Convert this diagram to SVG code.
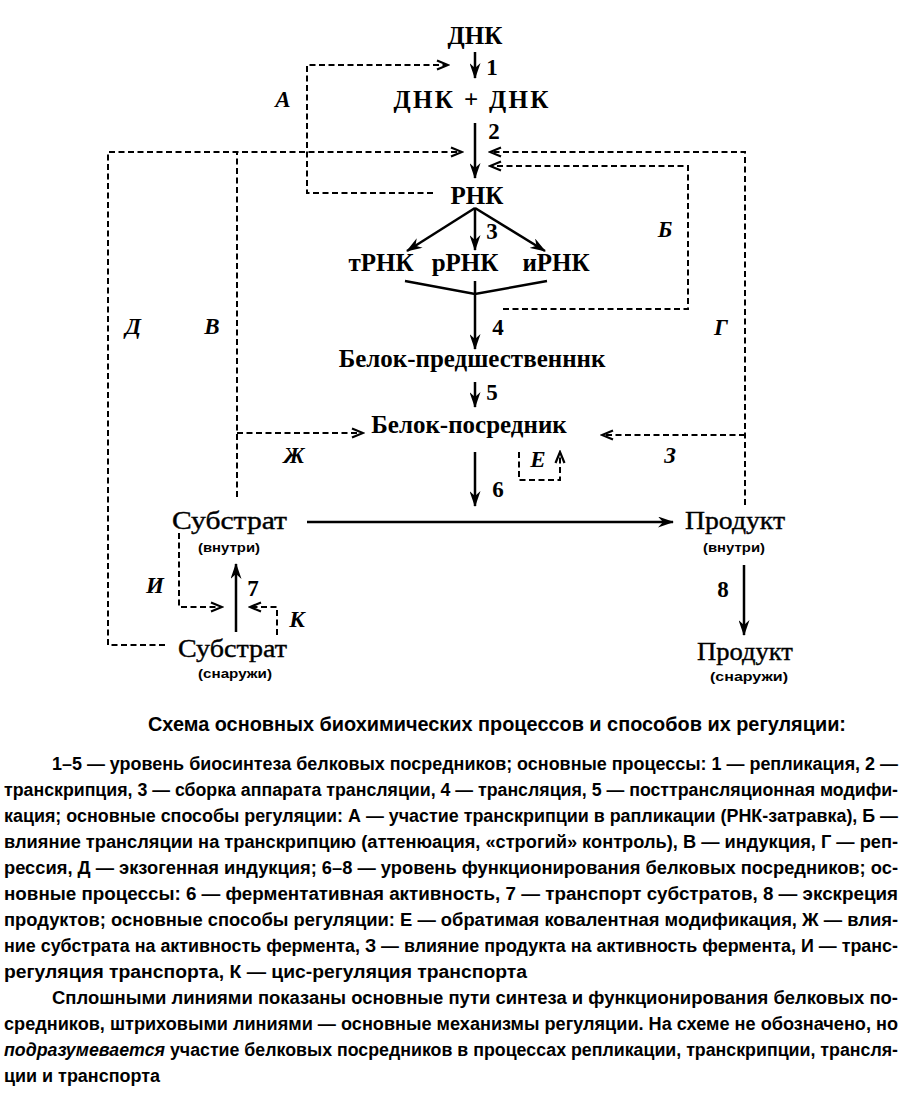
<svg xmlns="http://www.w3.org/2000/svg" width="921" height="1102" viewBox="0 0 921 1102">
<style>
.n{font-family:"Liberation Serif","Times New Roman",serif;font-weight:bold;font-size:25px;fill:#000;text-anchor:middle}
.nr{font-family:"Liberation Serif","Times New Roman",serif;font-size:26px;fill:#000;stroke:#000;stroke-width:0.4}
.num{font-family:"Liberation Serif","Times New Roman",serif;font-weight:bold;font-size:23px;fill:#000;text-anchor:middle}
.lab{font-family:"Liberation Serif","Times New Roman",serif;font-weight:bold;font-style:italic;font-size:23px;fill:#000;text-anchor:middle}
.sm{font-family:"Liberation Sans",Arial,sans-serif;font-weight:bold;font-size:13px;fill:#000}
.s{stroke:#000;stroke-width:2.5;fill:none;marker-end:url(#as)}
.sl{stroke:#000;stroke-width:2.5;fill:none}
.d{stroke:#000;stroke-width:2;fill:none;stroke-dasharray:6 3.5}
.da{stroke:#000;stroke-width:2;fill:none;stroke-dasharray:6 3.5;marker-end:url(#ad)}
.t{font-family:"Liberation Sans",Arial,sans-serif;font-weight:bold;font-size:17.5px;fill:#000}
.ti{font-family:"Liberation Sans",Arial,sans-serif;font-weight:bold;font-size:20px;fill:#000}
</style>
<defs>
<marker id="as" markerUnits="userSpaceOnUse" markerWidth="16" markerHeight="11" viewBox="0 0 16 11" refX="15" refY="5.5" orient="auto">
<path d="M0,0 L16,5.5 L0,11 L5,5.5 Z" fill="#000"/>
</marker>
<marker id="ad" markerUnits="userSpaceOnUse" markerWidth="14" markerHeight="12" viewBox="0 0 14 12" refX="12" refY="6" orient="auto">
<path d="M1,1.5 L12,6 L1,10.5" fill="none" stroke="#000" stroke-width="2.2"/>
</marker>
</defs>
<rect width="921" height="1102" fill="#fff"/>

<g id="connectors">
<line class="s" x1="475" y1="52" x2="475" y2="78"/>
<line class="s" x1="475" y1="123" x2="475" y2="178"/>
<line class="s" x1="475" y1="208" x2="407" y2="251"/>
<line class="s" x1="475" y1="208" x2="475" y2="250"/>
<line class="s" x1="475" y1="208" x2="545" y2="251"/>
<polyline class="sl" points="405,281 475,294 547,281"/>
<line class="s" x1="475" y1="281" x2="475" y2="349"/>
<line class="s" x1="475" y1="382" x2="475" y2="407"/>
<line class="s" x1="475" y1="452" x2="475" y2="506"/>
<line class="s" x1="307" y1="522" x2="673" y2="522"/>
<line class="s" x1="236" y1="632" x2="236" y2="564"/>
<line class="s" x1="744" y1="565" x2="744" y2="635"/>

<path class="da" d="M433,193 H307 V65 H448"/>
<path class="da" d="M165,645 H108 V152 H462"/>
<path class="d" d="M237,497 V152"/>
<path class="da" d="M237,433 H363"/>
<path class="da" d="M745,505 V152 H490"/>
<path class="da" d="M745,435 H602"/>
<path class="da" d="M503,309 H688 V166 H490"/>
<path class="da" d="M519,452 V480 H560 V452"/>
<path class="da" d="M179,533 V607 H222"/>
<path class="da" d="M277,635 V607 H250"/>

<text class="num" x="492" y="75">1</text>
<text class="num" x="494" y="139">2</text>
<text class="num" x="492" y="239">3</text>
<text class="num" x="498" y="335">4</text>
<text class="num" x="492" y="400">5</text>
<text class="num" x="498" y="497">6</text>
<text class="num" x="253" y="596">7</text>
<text class="num" x="723" y="597">8</text>

<text class="lab" x="283" y="107">А</text>
<text class="lab" x="665" y="237">Б</text>
<text class="lab" x="212" y="334">В</text>
<text class="lab" x="721" y="335">Г</text>
<text class="lab" x="133" y="334">Д</text>
<text class="lab" x="538" y="467">Е</text>
<text class="lab" x="294" y="463">Ж</text>
<text class="lab" x="670" y="463">З</text>
<text class="lab" x="155" y="593">И</text>
<text class="lab" x="297" y="627">К</text>
</g>

<g id="n-dnk"><text class="n" x="475" y="44">ДНК</text></g>
<g id="n-dnk2"><text class="n" x="471" y="108" textLength="155" lengthAdjust="spacing">ДНК + ДНК</text></g>
<g id="n-rnk"><text class="n" x="477" y="204">РНК</text></g>
<g id="n-trnk"><text class="n" x="381" y="271">тРНК</text></g>
<g id="n-rrnk"><text class="n" x="465" y="271">рРНК</text></g>
<g id="n-irnk"><text class="n" x="556" y="271">иРНК</text></g>
<g id="n-pred"><text class="n" x="472" y="367">Белок-предшественннк</text></g>
<g id="n-posr"><text class="n" x="469" y="433">Белок-посредник</text></g>
<g id="n-sub-in"><text class="nr" x="172" y="529" textLength="115" lengthAdjust="spacingAndGlyphs">Субстрат</text><text class="sm" x="198" y="552" textLength="62" lengthAdjust="spacingAndGlyphs">(внутри)</text></g>
<g id="n-prod-in"><text class="nr" x="685" y="529" textLength="100" lengthAdjust="spacingAndGlyphs">Продукт</text><text class="sm" x="703" y="552" textLength="62" lengthAdjust="spacingAndGlyphs">(внутри)</text></g>
<g id="n-sub-out"><text class="nr" x="178" y="657" textLength="109" lengthAdjust="spacingAndGlyphs">Субстрат</text><text class="sm" x="198" y="678" textLength="74" lengthAdjust="spacingAndGlyphs">(снаружи)</text></g>
<g id="n-prod-out"><text class="nr" x="697" y="660" textLength="96" lengthAdjust="spacingAndGlyphs">Продукт</text><text class="sm" x="710" y="681" textLength="78" lengthAdjust="spacingAndGlyphs">(снаружи)</text></g>

<g id="caption">
<text class="ti" x="148" y="731" textLength="698" lengthAdjust="spacingAndGlyphs">Схема основных биохимических процессов и способов их регуляции:</text>
<text class="t" x="52" y="770" textLength="846" lengthAdjust="spacingAndGlyphs">1–5 — уровень биосинтеза белковых посредников; основные процессы: 1 — репликация, 2 —</text>
<text class="t" x="4" y="796" textLength="894" lengthAdjust="spacingAndGlyphs">транскрипция, 3 — сборка аппарата трансляции, 4 — трансляция, 5 — посттрансляционная модифи-</text>
<text class="t" x="4" y="822" textLength="894" lengthAdjust="spacingAndGlyphs">кация; основные способы регуляции: А — участие транскрипции в рапликации (РНК-затравка), Б —</text>
<text class="t" x="4" y="848" textLength="894" lengthAdjust="spacingAndGlyphs">влияние трансляции на транскрипцию (аттенюация, «строгий» контроль), В — индукция, Г — реп-</text>
<text class="t" x="4" y="874" textLength="894" lengthAdjust="spacingAndGlyphs">рессия, Д — экзогенная индукция; 6–8 — уровень функционирования белковых посредников; ос-</text>
<text class="t" x="4" y="900" textLength="894" lengthAdjust="spacingAndGlyphs">новные процессы: 6 — ферментативная активность, 7 — транспорт субстратов, 8 — экскреция</text>
<text class="t" x="4" y="926" textLength="894" lengthAdjust="spacingAndGlyphs">продуктов; основные способы регуляции: Е — обратимая ковалентная модификация, Ж — влия-</text>
<text class="t" x="4" y="952" textLength="894" lengthAdjust="spacingAndGlyphs">ние субстрата на активность фермента, З — влияние продукта на активность фермента, И — транс-</text>
<text class="t" x="4" y="978" textLength="523" lengthAdjust="spacingAndGlyphs">регуляция транспорта, К — цис-регуляция транспорта</text>
<text class="t" x="52" y="1004" textLength="846" lengthAdjust="spacingAndGlyphs">Сплошными линиями показаны основные пути синтеза и функционирования белковых по-</text>
<text class="t" x="4" y="1030" textLength="894" lengthAdjust="spacingAndGlyphs">средников, штриховыми линиями — основные механизмы регуляции. На схеме не обозначено, но</text>
<text class="t" x="4" y="1056" textLength="894" lengthAdjust="spacingAndGlyphs"><tspan font-style="italic">подразумевается</tspan> участие белковых посредников в процессах репликации, транскрипции, трансля-</text>
<text class="t" x="4" y="1082" textLength="156" lengthAdjust="spacingAndGlyphs">ции и транспорта</text>
</g>
</svg>
